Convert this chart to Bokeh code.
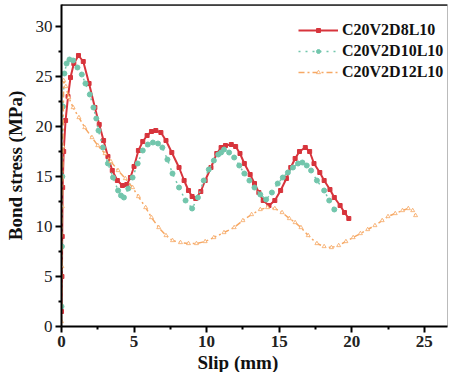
from bokeh.plotting import figure
from bokeh.models import Range1d, Legend, LegendItem, FixedTicker, Span, Title
from bokeh.embed import file_html
from bokeh.resources import INLINE

# ---- data ----
red_x = [0, 0.03, 0.05, 0.08, 0.15, 0.28, 0.45, 0.62, 0.85, 1.17, 1.5, 1.9, 2.3, 2.6, 2.9,
         3.2, 3.5, 3.85, 4.2, 4.5, 4.75, 5.0, 5.3, 5.6, 5.9, 6.2, 6.5, 6.85, 7.2, 7.6,
         8.1, 8.45, 8.75, 9.0, 9.25, 9.6, 9.9, 10.3, 10.7, 11.0, 11.3, 11.7, 12.0, 12.3, 12.6,
         13.0, 13.3, 13.6, 13.9, 14.3, 14.7, 15.1, 15.5, 15.8, 16.1, 16.4, 16.8, 17.1, 17.4, 17.8,
         18.1, 18.5, 18.8, 19.2, 19.5, 19.8]
red_y = [1.5, 5, 9, 13.9, 17.5, 20.6, 23.0, 24.9, 26.3, 27.1, 26.5, 24.3, 21.9, 20.2, 18.6,
         17.0, 15.6, 14.6, 14.1, 14.2, 14.9, 16.0, 17.6, 18.5, 19.1, 19.5, 19.6, 19.4, 18.6, 17.4,
         15.9, 14.6, 13.6, 13.0, 12.8, 13.5, 14.6, 15.9, 17.3, 17.9, 18.1, 18.2, 18.0, 17.3, 16.3,
         15.2, 14.3, 13.4, 12.6, 12.1, 12.6, 13.6, 14.8, 15.9, 16.8, 17.5, 17.9, 17.5, 16.3, 15.4,
         14.6, 13.7, 12.9, 12.1, 11.4, 10.8]

green_x = [0, 0.03, 0.06, 0.1, 0.2, 0.35, 0.55, 0.8, 1.1, 1.4, 1.65, 1.95, 2.2, 2.4, 2.55,
           2.85, 3.2, 3.55, 3.9, 4.1, 4.3, 4.6, 4.9, 5.25, 5.6, 5.95, 6.3, 6.65, 6.95, 7.3,
           7.65, 8.1, 8.55, 9.0, 9.4, 9.8, 10.15, 10.5, 10.8, 11.0, 11.2, 11.55, 11.9, 12.25, 12.6,
           12.95, 13.3, 13.7, 14.1, 14.5, 14.9, 15.25, 15.6, 15.95, 16.3, 16.6, 16.9, 17.2, 17.6, 18.1,
           18.45, 18.8]
green_y = [2, 8, 15, 22, 25.3, 26.3, 26.7, 26.6, 25.9, 25.2, 24.3, 23.2, 21.9, 20.8, 19.6,
           17.9, 16.3, 14.9, 13.6, 13.1, 12.9, 13.8, 14.9, 16.3, 17.6, 18.2, 18.4, 18.3, 17.9, 16.7,
           15.3, 13.9, 12.6, 11.8, 12.9, 14.6, 15.7, 16.6, 17.2, 17.4, 17.7, 17.4, 16.9, 16.1, 15.3,
           14.6, 13.9, 13.2, 12.7, 13.4, 14.3, 14.9, 15.4, 15.9, 16.3, 16.4, 16.1, 15.6, 14.6, 13.6,
           12.6, 11.7]

orange_x = [0, 0.03, 0.06, 0.1, 0.15, 0.3, 0.5, 0.8, 1.2, 1.6, 2.1, 2.5, 3.0, 3.4, 3.9,
            4.4, 4.9, 5.3, 5.8, 6.2, 6.7, 7.2, 7.65, 8.2, 8.75, 9.3, 9.9, 10.5, 11.2, 11.9,
            12.5, 13.1, 13.7, 14.2, 14.7, 15.2, 15.7, 16.1, 16.5, 17.0, 17.6, 18.1, 18.6, 19.1, 19.6,
            20.1, 20.6, 21.1, 21.6, 22.1, 22.5, 23.0, 23.5, 23.9, 24.2, 24.4]
orange_y = [0.5, 6, 12, 18, 24.6, 24.0, 22.9, 21.9, 20.9, 19.9, 18.9, 18.1, 17.3, 16.5, 15.6,
            14.8, 13.9, 13.0, 11.9, 10.9, 9.9, 9.1, 8.6, 8.4, 8.3, 8.3, 8.5, 8.9, 9.4, 9.9,
            10.6, 11.2, 11.7, 11.9, 11.8, 11.4, 10.8, 10.4, 9.9, 9.1, 8.3, 8.0, 7.9, 8.1, 8.5,
            8.9, 9.3, 9.7, 10.1, 10.6, 11.0, 11.3, 11.6, 11.8, 11.6, 11.1]

labels = ["C20V2D8L10", "C20V2D10L10", "C20V2D12L10"]
x_ticks = [0, 5, 10, 15, 20, 25]
x_minor = [2.5, 7.5, 12.5, 17.5, 22.5]
y_ticks = [0, 5, 10, 15, 20, 25, 30]
y_minor = [2.5, 7.5, 12.5, 17.5, 22.5, 27.5]
X_MAX = 26.6
Y_MAX = 32.2

RED = "#d7343c"
GREEN = "#72c6ac"
ORANGE = "#f6a864"
FONT = "Liberation Serif"

p = figure(width=449, height=372, output_backend="svg", toolbar_location=None,
           x_range=Range1d(0, X_MAX), y_range=Range1d(0, Y_MAX),
           min_border_left=61, min_border_right=2, min_border_top=4, min_border_bottom=46)
p.grid.visible = False
p.background_fill_color = "white"
p.outline_line_color = "#bbbbbb"
p.outline_line_width = 1

# series
r1 = p.line(red_x, red_y, line_color=RED, line_width=2)
s1 = p.scatter(red_x, red_y, marker="square", size=4, color=RED)
r2 = p.line(green_x, green_y, line_color=GREEN, line_width=1.5, line_dash="2 5")
s2 = p.scatter(green_x, green_y, marker="circle", size=5, color=GREEN)
r3 = p.line(orange_x, orange_y, line_color=ORANGE, line_width=1.5, line_dash="6 3 2 3")
s3 = p.scatter(orange_x, orange_y, marker="triangle", size=4, fill_color="white",
               line_color=ORANGE, line_width=0.8)

# top frame line
p.add_layout(Span(location=Y_MAX, dimension="width", line_color="black", line_width=2.5))

# axes
for ax in (p.xaxis[0], p.yaxis[0]):
    ax.axis_line_width = 2
    ax.axis_line_color = "black"
    ax.major_tick_line_width = 2
    ax.major_tick_line_color = "black"
    ax.major_tick_out = 6
    ax.major_tick_in = 0
    ax.minor_tick_line_width = 2
    ax.minor_tick_line_color = "black"
    ax.minor_tick_out = 3
    ax.minor_tick_in = 0
    ax.major_label_text_font = FONT
    ax.major_label_text_font_size = "17px"
    ax.major_label_text_color = "#222222"
    ax.axis_label_text_font = FONT
    ax.axis_label_text_font_size = "19px"
    ax.axis_label_text_font_style = "bold"
    ax.axis_label_text_color = "#111111"

p.xaxis[0].ticker = FixedTicker(ticks=x_ticks, minor_ticks=x_minor)
p.yaxis[0].ticker = FixedTicker(ticks=y_ticks, minor_ticks=y_minor)
p.xaxis[0].major_label_text_font_style = "bold"
p.xaxis[0].major_label_standoff = 3
p.yaxis[0].axis_label = "Bond stress (MPa)"
p.yaxis[0].axis_label_standoff = 7
p.yaxis[0].major_label_standoff = 3

# x-axis title, shifted left as in the reference
p.add_layout(Title(text="Slip (mm)", align="left", offset=136, standoff=0,
                   text_font=FONT, text_font_size="19px", text_font_style="bold",
                   text_color="#111111"), "below")

legend = Legend(items=[LegendItem(label=labels[0], renderers=[r1, s1]),
                       LegendItem(label=labels[1], renderers=[r2, s2]),
                       LegendItem(label=labels[2], renderers=[r3, s3])],
                location=(237, 244), border_line_color=None, background_fill_alpha=0,
                label_text_font=FONT, label_text_font_size="16px", label_text_font_style="bold",
                label_text_color="#111111", glyph_width=40, glyph_height=10, spacing=0,
                label_height=21, padding=0, margin=0, label_standoff=4)
p.add_layout(legend)

open("out.html", "w").write(file_html(p, INLINE))
